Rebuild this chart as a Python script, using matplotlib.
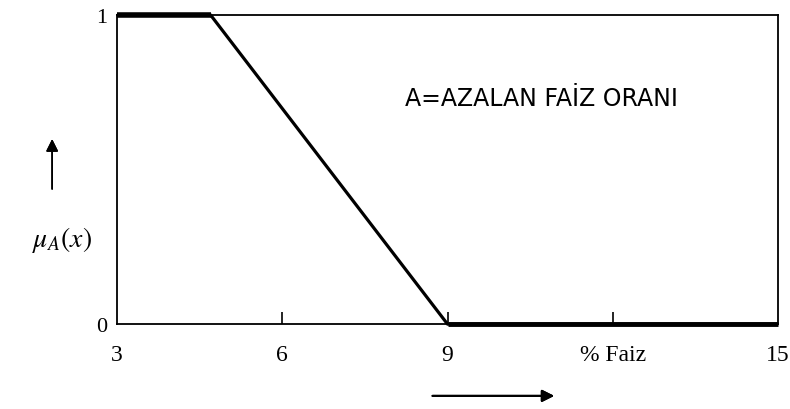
import matplotlib.pyplot as plt

# membership function points
x_pts = [3, 4.7, 9, 15]
mu_pts = [1, 1, 0, 0]

x_ticks = [3, 6, 9, 12, 15]
x_labels = ['3', '6', '9', '% Faiz', '15']
y_ticks = [0, 1]
y_labels = ['0', '1']

fig = plt.figure(figsize=(7.9, 4.1), dpi=100)
ax = fig.add_axes([0.148, 0.207, 0.837, 0.754])

ax.plot(x_pts, mu_pts, color='black', lw=2.3, clip_on=False, solid_capstyle='butt')
# thicker flat parts, as in the scan
ax.plot(x_pts[:2], mu_pts[:2], color='black', lw=4, clip_on=False, solid_capstyle='butt')
ax.plot(x_pts[2:], mu_pts[2:], color='black', lw=3.5, clip_on=False, solid_capstyle='butt')
ax.set_xlim(3, 15)
ax.set_ylim(0, 1)

for s in ax.spines.values():
    s.set_linewidth(1.3)

ax.set_xticks(x_ticks)
ax.set_xticklabels(x_labels, family='Liberation Serif', fontsize=17)
ax.set_yticks(y_ticks)
ax.set_yticklabels(y_labels, family='Liberation Serif', fontsize=16)
ax.tick_params(axis='x', direction='in', length=9, width=1.2, pad=14)
ax.tick_params(axis='y', length=0, pad=7)
# no tick marks at the axis ends
for t in ax.xaxis.get_major_ticks():
    if t.get_loc() in (3, 15):
        t.tick1line.set_visible(False)

ax.text(0.435, 0.73, 'A=AZALAN FAİZ ORANI', transform=ax.transAxes,
        family='DejaVu Sans', fontsize=17, va='center', ha='left')

# axis arrows
fig.text(0.079, 0.415, r'$\mu_A(x)$', fontsize=20, ha='center', va='center',
         math_fontfamily='stix')
fig.add_artist(plt.annotate('', xy=(0.066, 0.665), xytext=(0.066, 0.53),
                            xycoords='figure fraction',
                            arrowprops=dict(arrowstyle='-|>', color='black', lw=1.2,
                                            mutation_scale=18)))
fig.add_artist(plt.annotate('', xy=(0.705, 0.032), xytext=(0.544, 0.032),
                            xycoords='figure fraction',
                            arrowprops=dict(arrowstyle='-|>', color='black', lw=1.5,
                                            mutation_scale=18)))

fig.savefig('out.png', dpi=100)
